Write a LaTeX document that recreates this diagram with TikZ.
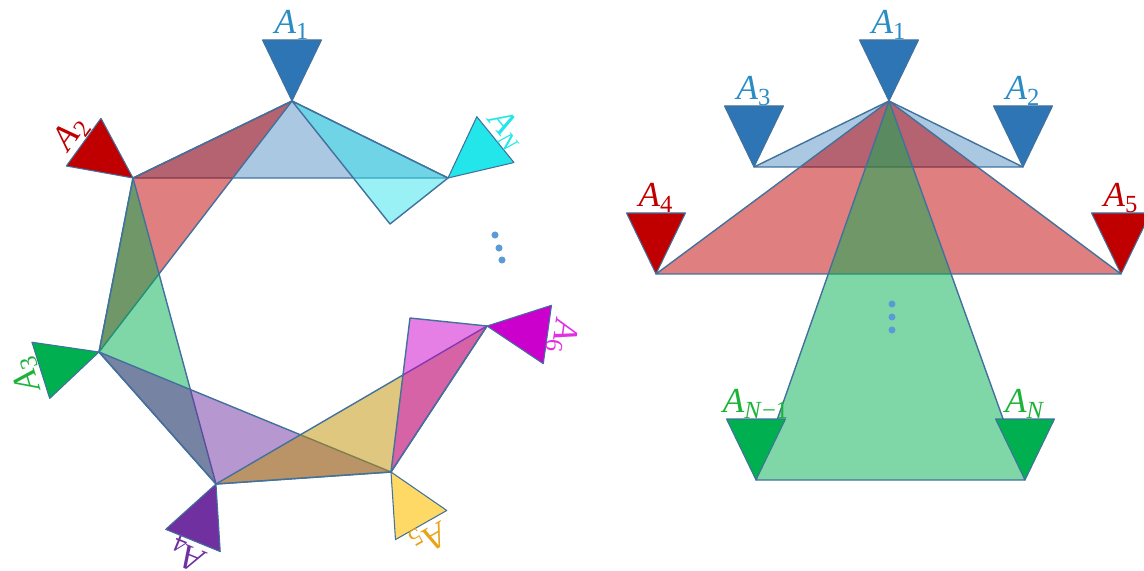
\documentclass[tikz,border=0pt]{standalone}
\usepackage{fontspec}
\setmainfont{Liberation Serif}
\usetikzlibrary{calc}

\definecolor{agblue}{HTML}{2E75B6}
\definecolor{agred}{HTML}{C00000}
\definecolor{aggreen}{HTML}{00B050}
\definecolor{agpurple}{HTML}{7030A0}
\definecolor{agyellow}{HTML}{FFD966}
\definecolor{aggold}{HTML}{BF9000}
\definecolor{agmagenta}{HTML}{CC00CC}
\definecolor{agcyan}{HTML}{22E6EA}
\definecolor{bigcyan}{HTML}{33E1EB}
\definecolor{edgeblue}{HTML}{41719C}
\definecolor{dotblue}{HTML}{5B9BD5}
\definecolor{lblblue}{HTML}{2B8CC4}
\definecolor{lblgreen}{HTML}{1DB33A}
\definecolor{lblgold}{HTML}{E8A317}
\definecolor{lblmagenta}{HTML}{E030E0}

\tikzset{
  agentbox/.style={draw=edgeblue, line width=0.6pt, line join=round},
  bigtri/.style={draw=edgeblue, line width=0.8pt, fill opacity=0.5, line join=round},
  agentlabel/.style={inner sep=0pt, font=\fontsize{20}{21}\selectfont},
  moredots/.style={circle, fill=dotblue, inner sep=0pt, minimum size=4pt}
}

% agent: tip coordinate, rotation, fill, label, label colour
\newcommand{\agent}[5]{%
  \begin{scope}[shift={(#1)}, rotate=#2]
    \draw[agentbox, fill=#3] (0,0) -- (-29.5,-61) -- (29.5,-61) -- cycle;
    \node[agentlabel, text=#5, transform shape] (#1-lbl) at (0,-76) {#4};
  \end{scope}}
\newcommand{\lblA}[1]{\textit{A}\textsubscript{#1}}

\begin{document}
\begin{tikzpicture}[x=0.02cm, y=-0.02cm]
  \useasboundingbox (0,0) rectangle (1144,571);

  % ring of agents
  \coordinate (L1) at (292,101);
  \coordinate (L2) at (133,178);
  \coordinate (L3) at (99,352);
  \coordinate (L4) at (216,484);
  \coordinate (L5) at (391,472);
  \coordinate (L6) at (487,326);
  \coordinate (LN) at (448,178);
  \coordinate (LX) at (390,224);
  \coordinate (LY) at (410,318);

  \draw[bigtri, fill=agblue, fill opacity=0.4] (L1) -- (L2) -- (LN) -- cycle;
  \draw[bigtri, fill=agred] (L2) -- (L1) -- (L3) -- cycle;
  \draw[bigtri, fill=aggreen] (L3) -- (L2) -- (L4) -- cycle;
  \draw[bigtri, fill=agpurple] (L4) -- (L3) -- (L5) -- cycle;
  \draw[bigtri, fill=aggold] (L5) -- (L4) -- (L6) -- cycle;
  \draw[bigtri, fill=agmagenta] (L6) -- (L5) -- (LY) -- cycle;
  \draw[bigtri, fill=bigcyan] (LN) -- (L1) -- (LX) -- cycle;

  \agent{L1}{0}{agblue}{\lblA{1}}{lblblue}
  \agent{L2}{54}{agred}{\lblA{2}}{agred}
  \agent{L3}{107.5}{aggreen}{\lblA{3}}{lblgreen}
  \agent{L4}{157.8}{agpurple}{\lblA{4}}{agpurple}
  \agent{L5}{-150.4}{agyellow}{\lblA{5}}{lblgold}
  \agent{L6}{-98}{agmagenta}{\lblA{6}}{lblmagenta}
  \agent{LN}{-51}{agcyan}{\lblA{\textit{N}}}{agcyan}

  \node[moredots] (ld1) at (495,235) {};
  \node[moredots] (ld2) at (499,248) {};
  \node[moredots] (ld3) at (502,260) {};

  % star around A1
  \coordinate (R1) at (889,101);
  \coordinate (R2) at (1023,167);
  \coordinate (R3) at (754,167);
  \coordinate (R4) at (656,274);
  \coordinate (R5) at (1121,274);
  \coordinate (RM) at (756,480);
  \coordinate (RN) at (1025,480);

  \draw[bigtri, fill=agblue, fill opacity=0.4] (R1) -- (R3) -- (R2) -- cycle;
  \draw[bigtri, fill=agred] (R1) -- (R4) -- (R5) -- cycle;
  \draw[bigtri, fill=aggreen] (R1) -- (RM) -- (RN) -- cycle;

  \agent{R1}{0}{agblue}{\lblA{1}}{lblblue}
  \agent{R2}{0}{agblue}{\lblA{2}}{lblblue}
  \agent{R3}{0}{agblue}{\lblA{3}}{lblblue}
  \agent{R4}{0}{agred}{\lblA{4}}{agred}
  \agent{R5}{0}{agred}{\lblA{5}}{agred}
  \agent{RM}{0}{aggreen}{\lblA{\textit{N}−1}}{lblgreen}
  \agent{RN}{0}{aggreen}{\lblA{\textit{N}}}{lblgreen}

  \node[moredots] (rd1) at (892,304) {};
  \node[moredots] (rd2) at (892,317) {};
  \node[moredots] (rd3) at (892,330) {};
\end{tikzpicture}
\end{document}
